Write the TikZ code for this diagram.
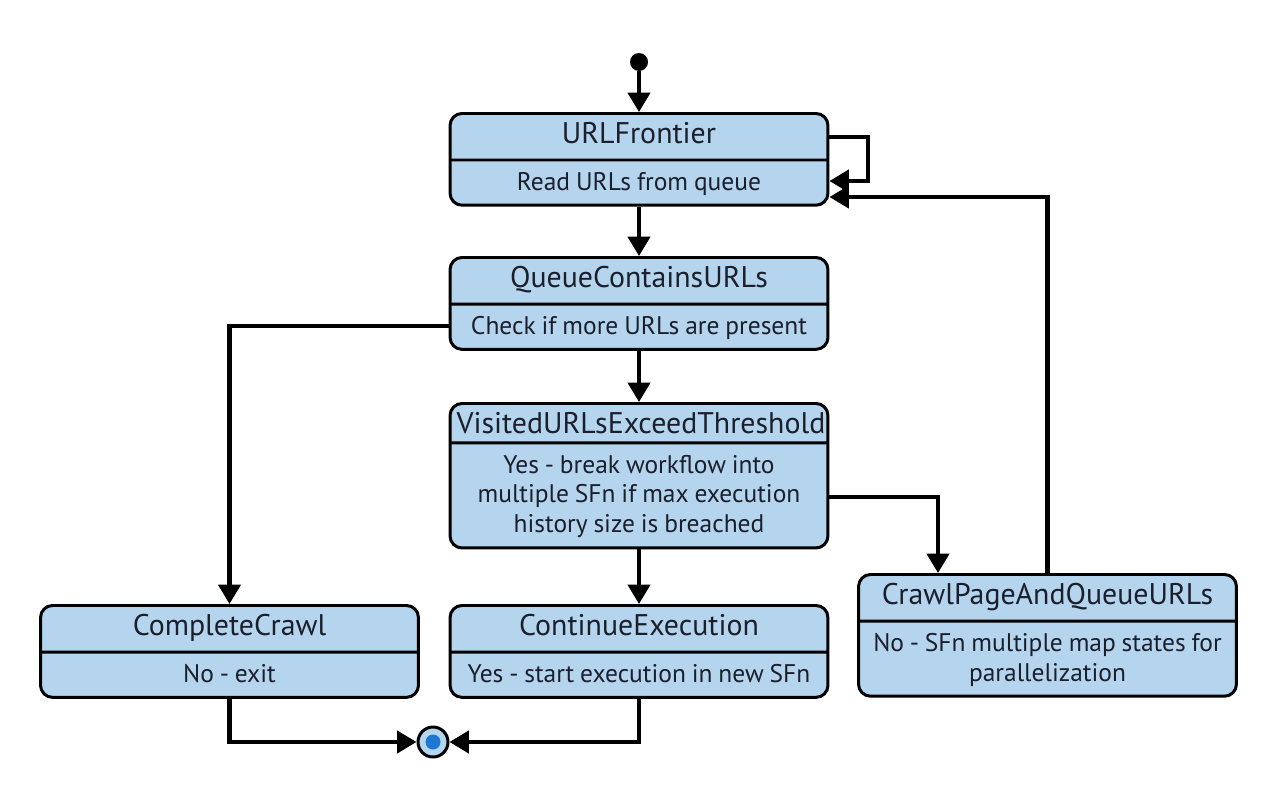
\documentclass[tikz,border=0pt]{standalone}
\usepackage{fontspec}
\setmainfont{PT Sans}
\usetikzlibrary{shapes.multipart,arrows.meta,positioning}

\definecolor{stateblue}{HTML}{B5D5EE}
\definecolor{endblue}{HTML}{1E78D2}
\definecolor{inkdark}{HTML}{1A1F2B}

\newcommand{\sthead}[2][4.2pt]{\fontsize{17}{14}\selectfont\rule[-#1]{0pt}{#1}#2}
\newcommand{\stbody}[1]{\fontsize{14.5}{17}\selectfont\rule{0pt}{12pt}#1\rule[-3.5pt]{0pt}{3.5pt}\par}

\tikzset{
  state/.style={rectangle split, rectangle split parts=2, draw=black,
    line width=1.7pt, fill=stateblue, rounded corners=0.24cm,
    minimum width=7.56cm, text width=7.3cm, align=center,
    inner ysep=0.15cm, text=inkdark},
  arr/.style={line width=2.3pt, -{Triangle[length=11pt,width=12.5pt]}},
}

\begin{document}
\begin{tikzpicture}[x=0.02cm, y=-0.02cm]
  \useasboundingbox (0,0) rectangle (1271,798);

  % start and end
  \node[circle, fill=black, inner sep=0pt, minimum size=0.36cm] (start) at (639,62) {};
  \node[circle, draw=black, line width=1.7pt, fill=stateblue, inner sep=0pt,
    minimum size=0.6cm] (endst) at (433,742) {};
  \fill[endblue] (endst) circle (0.15cm);

  % states
  \node[state, anchor=north] (fr) at (639,112)
    {\sthead{URLFrontier} \nodepart{two}\stbody{Read URLs from queue}};
  \node[state, anchor=north] (qc) at (639,256)
    {\sthead{QueueContainsURLs} \nodepart{two}\stbody{Check if more URLs are present}};
  \node[state, anchor=north] (vt) at (639,402)
    {\sthead[0pt]{VisitedURLsExceedThreshold} \nodepart{two}\stbody{Yes - break workflow into\\
     multiple SFn if max execution\\ history size is breached}};
  \node[state, anchor=north] (cc) at (229.5,604)
    {\sthead{CompleteCrawl} \nodepart{two}\stbody{No - exit}};
  \node[state, anchor=north] (ce) at (639,604)
    {\sthead{ContinueExecution} \nodepart{two}\stbody{Yes - start execution in new SFn}};
  \node[state, anchor=north] (cp) at (1047.5,573)
    {\sthead{CrawlPageAndQueueURLs} \nodepart{two}\stbody{No - SFn multiple map states for\\
     parallelization}};

  % transitions
  \draw[arr] (start) -- (fr);
  \draw[arr] (fr.east |- 0,137) -- (868,137) |- (fr.east |- 0,181);
  \draw[arr] (fr) -- (qc);
  \draw[arr] (qc) -- (vt);
  \draw[arr] (qc.west |- 0,326) -| (cc.north);
  \draw[arr] (vt) -- (ce);
  \draw[arr] (vt.east |- 0,497) -| (cp.north -| 938,0);
  \draw[arr] (cp.north) |- (fr.east |- 0,197);
  \draw[arr] (cc.south) |- (endst);
  \draw[arr] (ce.south) |- (endst);
\end{tikzpicture}
\end{document}
